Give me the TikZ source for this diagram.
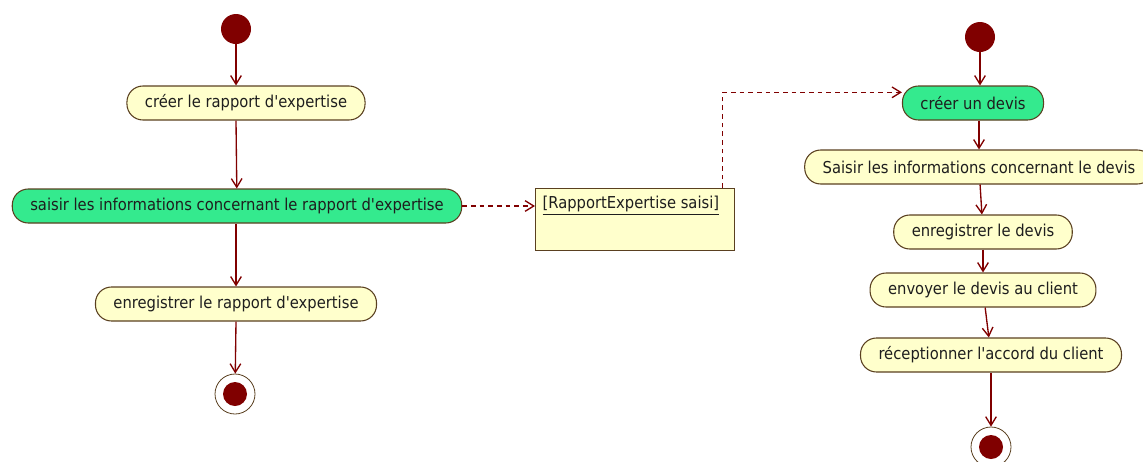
\documentclass[tikz,border=0pt]{standalone}
\usepackage{fontspec}
\setmainfont{DejaVu Sans Condensed}
\usetikzlibrary{arrows.meta,calc,positioning}
\definecolor{umlRouge}{HTML}{800000}
\definecolor{umlBord}{HTML}{5A4020}
\definecolor{umlJaune}{HTML}{FFFFCC}
\definecolor{umlVert}{HTML}{34EA8E}
\definecolor{umlTexte}{HTML}{1E1E1E}
\newcommand{\apos}{\textquotesingle}

\begin{document}
\begin{tikzpicture}[x=0.75pt,y=-0.75pt,
  action/.style={draw=umlBord,line width=0.8pt,fill=umlJaune,rounded corners=12pt,minimum height=25.5pt,inner xsep=13.5pt,inner ysep=2pt,font=\fontsize{12.3}{14}\selectfont,text=umlTexte},
  actionvert/.style={action,fill=umlVert},
  debut/.style={circle,fill=umlRouge,minimum size=22.5pt,inner sep=0pt},
  fin/.style={circle,draw=umlBord,line width=0.6pt,fill=white,minimum size=30pt,inner sep=0pt,
    path picture={\fill[umlRouge] (path picture bounding box.center) circle (9pt);}},
  flot/.style={umlRouge,line width=1pt,-{Straight Barb[length=6.5pt,width=8pt]}},
  objflot/.style={flot,dash pattern=on 3.5pt off 3pt}]
  \useasboundingbox (0,0) rectangle (1143,461);

  % rapport d'expertise
  \node[debut] (initA) at (236,29) {};
  \node[action] (creerRE) at (246,103) {créer le rapport d\apos expertise};
  \node[actionvert] (saisirRE) at (237,206) {saisir les informations concernant le rapport d\apos expertise};
  \node[action] (enregRE) at (236,304) {enregistrer le rapport d\apos expertise};
  \node[fin] (finA) at (235,394) {};

  % objet
  \node[draw=umlBord,line width=0.8pt,fill=umlJaune,minimum width=149pt,minimum height=46.5pt,anchor=north west] (obj) at (535,188) {};
  \node[anchor=north west,inner sep=0pt,font=\fontsize{12.3}{14}\selectfont,text=umlTexte] (objtxt) at ([xshift=5.5pt,yshift=-6pt]obj.north west) {\underline{[RapportExpertise saisi]}};

  % devis
  \node[debut] (initB) at (980,37) {};
  \node[actionvert] (creerDV) at (973,103) {créer un devis};
  \node[action] (saisirDV) at (979,167) {Saisir les informations concernant le devis};
  \node[action] (enregDV) at (983,232) {enregistrer le devis};
  \node[action] (envoiDV) at (983,290) {envoyer le devis au client};
  \node[action] (recepDV) at (991,355) {réceptionner l\apos accord du client};
  \node[fin] (finB) at (991,447) {};

  \draw[flot] (initA) -- (initA |- creerRE.north);
  \draw[flot] (creerRE.south -| initA) -- (saisirRE);
  \draw[flot] (saisirRE.south -| initA) -- (initA |- enregRE.north);
  \draw[flot] (enregRE.south -| initA) -- (finA);

  \draw[flot] (initB) -- (initB |- creerDV.north);
  \draw[flot] (creerDV.south -| saisirDV) -- (saisirDV);
  \draw[flot] (saisirDV) -- (enregDV);
  \draw[flot] (enregDV) -- (envoiDV);
  \draw[flot] (envoiDV) -- (recepDV);
  \draw[flot] (recepDV) -- (finB);

  \draw[objflot] (saisirRE.east) -- (saisirRE.east -| obj.west);
  \draw[objflot] ([xshift=-9pt]obj.north east) |- ([yshift=8pt]creerDV.west);
\end{tikzpicture}
\end{document}
